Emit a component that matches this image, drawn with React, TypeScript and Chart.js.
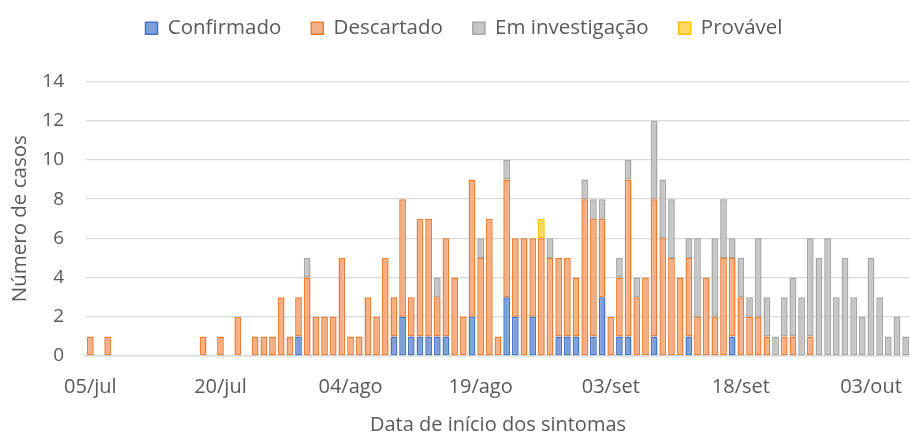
import React, { useEffect, useRef } from "react";
import { Chart, registerables } from "chart.js";

Chart.register(...registerables);

// Daily categories start at 05/jul, 95 days (05/jul .. 07/out)
const START_DATE = { year: 2020, month: 6, day: 5 };
const DAY_COUNT = 95;
const MONTH_ABBR = ["jan", "fev", "mar", "abr", "mai", "jun", "jul", "ago", "set", "out", "nov", "dez"];
const TICK_EVERY = 15;

const confirmado = [
  0, 0, 0, 0, 0, 0, 0, 0, 0, 0,
  0, 0, 0, 0, 0, 0, 0, 0, 0, 0,
  0, 0, 0, 0, 1, 0, 0, 0, 0, 0,
  0, 0, 0, 0, 0, 1, 2, 1, 1, 1,
  1, 1, 0, 0, 2, 0, 0, 0, 3, 2,
  0, 2, 0, 0, 1, 1, 1, 0, 1, 3,
  0, 1, 1, 0, 0, 1, 0, 0, 0, 1,
  0, 0, 0, 0, 1, 0, 0, 0, 0, 0,
  0, 0, 0, 0, 0, 0, 0, 0, 0, 0,
  0, 0, 0, 0, 0,
];

const descartado = [
  1, 0, 1, 0, 0, 0, 0, 0, 0, 0,
  0, 0, 0, 1, 0, 1, 0, 2, 0, 1,
  1, 1, 3, 1, 2, 4, 2, 2, 2, 5,
  1, 1, 3, 2, 5, 2, 6, 2, 6, 6,
  2, 5, 4, 2, 7, 5, 7, 1, 6, 4,
  6, 4, 6, 5, 4, 4, 3, 8, 6, 4,
  2, 3, 8, 3, 4, 7, 6, 5, 4, 4,
  2, 4, 2, 5, 4, 3, 2, 2, 1, 0,
  1, 1, 0, 1, 0, 0, 0, 0, 0, 0,
  0, 0, 0, 0, 0,
];

const emInvestigacao = [
  0, 0, 0, 0, 0, 0, 0, 0, 0, 0,
  0, 0, 0, 0, 0, 0, 0, 0, 0, 0,
  0, 0, 0, 0, 0, 1, 0, 0, 0, 0,
  0, 0, 0, 0, 0, 0, 0, 0, 0, 0,
  1, 0, 0, 0, 0, 1, 0, 0, 1, 0,
  0, 0, 0, 1, 0, 0, 0, 1, 1, 1,
  0, 1, 1, 1, 0, 4, 3, 3, 0, 1,
  4, 0, 4, 3, 1, 2, 1, 4, 2, 1,
  2, 3, 3, 5, 5, 6, 3, 5, 3, 2,
  5, 3, 1, 2, 1,
];

const provavel = [
  0, 0, 0, 0, 0, 0, 0, 0, 0, 0,
  0, 0, 0, 0, 0, 0, 0, 0, 0, 0,
  0, 0, 0, 0, 0, 0, 0, 0, 0, 0,
  0, 0, 0, 0, 0, 0, 0, 0, 0, 0,
  0, 0, 0, 0, 0, 0, 0, 0, 0, 0,
  0, 0, 1, 0, 0, 0, 0, 0, 0, 0,
  0, 0, 0, 0, 0, 0, 0, 0, 0, 0,
  0, 0, 0, 0, 0, 0, 0, 0, 0, 0,
  0, 0, 0, 0, 0, 0, 0, 0, 0, 0,
  0, 0, 0, 0, 0,
];

const SERIES_NAMES = ["Confirmado", "Descartado", "Em investigação", "Provável"];
const Y_MAX = 14;
const Y_STEP = 2;
const X_TITLE = "Data de início dos sintomas";
const Y_TITLE = "Número de casos";

function buildLabels(): string[] {
  const out: string[] = [];
  for (let i = 0; i < DAY_COUNT; i++) {
    const d = new Date(START_DATE.year, START_DATE.month, START_DATE.day + i);
    out.push(String(d.getDate()).padStart(2, "0") + "/" + MONTH_ABBR[d.getMonth()]);
  }
  return out;
}

const TEXT = "#595959";
const FONT = "'Open Sans', 'Liberation Sans', sans-serif";

const legendSpacer = {
  id: "legendSpacer",
  beforeLayout(chart: any) {
    const lg = chart.legend;
    if (lg && !lg._spacerPatched) {
      const fit = lg.fit.bind(lg);
      lg.fit = function () {
        fit();
        this.height += 33;
      };
      lg._spacerPatched = true;
    }
  },
  afterLayout(chart: any) {
    const lg = chart.legend;
    if (lg) {
      lg.left += 9;
      lg.right += 9;
    }
  },
};

export default function App() {
  const ref = useRef<HTMLCanvasElement | null>(null);

  useEffect(() => {
    document.body.style.margin = "0";
    const canvas = ref.current;
    if (!canvas) return;
    const labels = buildLabels();
    const nz = (arr: number[]) => arr.map((v) => (v ? v : null));
    const mk = (label: string, data: number[], bg: string, border: string) => ({
      label,
      data: nz(data),
      backgroundColor: bg,
      borderColor: border,
      borderWidth: 1.5,
      borderSkipped: false,
      categoryPercentage: 1,
      barPercentage: 0.78,
    });

    const chart = new Chart(canvas, {
      type: "bar",
      data: {
        labels,
        datasets: [
          mk(SERIES_NAMES[0], confirmado, "#7E9ED8", "#4472C4"),
          mk(SERIES_NAMES[1], descartado, "#F5AF86", "#ED7D31"),
          mk(SERIES_NAMES[2], emInvestigacao, "#C6C6C6", "#A5A5A5"),
          mk(SERIES_NAMES[3], provavel, "#FFD966", "#FFC000"),
        ] as any,
      },
      plugins: [legendSpacer],
      options: {
        responsive: false,
        animation: false,
        layout: { padding: { top: -12, left: 0, right: 0, bottom: 0 } },
        plugins: {
          legend: {
            position: "top",
            labels: {
              boxWidth: 12,
              boxHeight: 12,
              padding: 30,
              color: TEXT,
              font: { family: FONT, size: 20.5 },
            },
          },
          tooltip: { enabled: false },
        },
        scales: {
          x: {
            stacked: true,
            offset: true,
            grid: { display: false, drawTicks: false },
            border: { display: true, color: "#D9D9D9", width: 1.5 },
            ticks: {
              autoSkip: false,
              maxRotation: 0,
              minRotation: 0,
              padding: 19,
              color: TEXT,
              font: { family: FONT, size: 20 },
              callback: function (this: any, val: any, index: number) {
                return index % TICK_EVERY === 0 ? this.getLabelForValue(val) : "";
              },
            },
            title: {
              display: true,
              text: X_TITLE,
              color: TEXT,
              font: { family: FONT, size: 20 },
              padding: { top: 0, bottom: -4 },
            },
            afterFit: (scale: any) => {
              scale.height = 77;
              scale.paddingLeft = 0;
              scale.paddingRight = 0;
            },
          },
          y: {
            stacked: true,
            min: 0,
            max: Y_MAX,
            ticks: {
              stepSize: Y_STEP,
              padding: 22,
              color: TEXT,
              font: { family: FONT, size: 19 },
            },
            grid: { color: "#D9D9D9", lineWidth: 1.3, drawTicks: false },
            border: { display: false },
            title: {
              display: true,
              text: Y_TITLE,
              color: TEXT,
              font: { family: FONT, size: 20.5 },
              padding: { top: 8, bottom: 0 },
            },
            afterFit: (scale: any) => {
              scale.width = 86;
            },
          },
        },
      } as any,
    });
    return () => chart.destroy();
  }, []);

  return (
    <div style={{ width: 910, height: 433, background: "#fff" }}>
      <canvas ref={ref} width={910} height={433} />
    </div>
  );
}
